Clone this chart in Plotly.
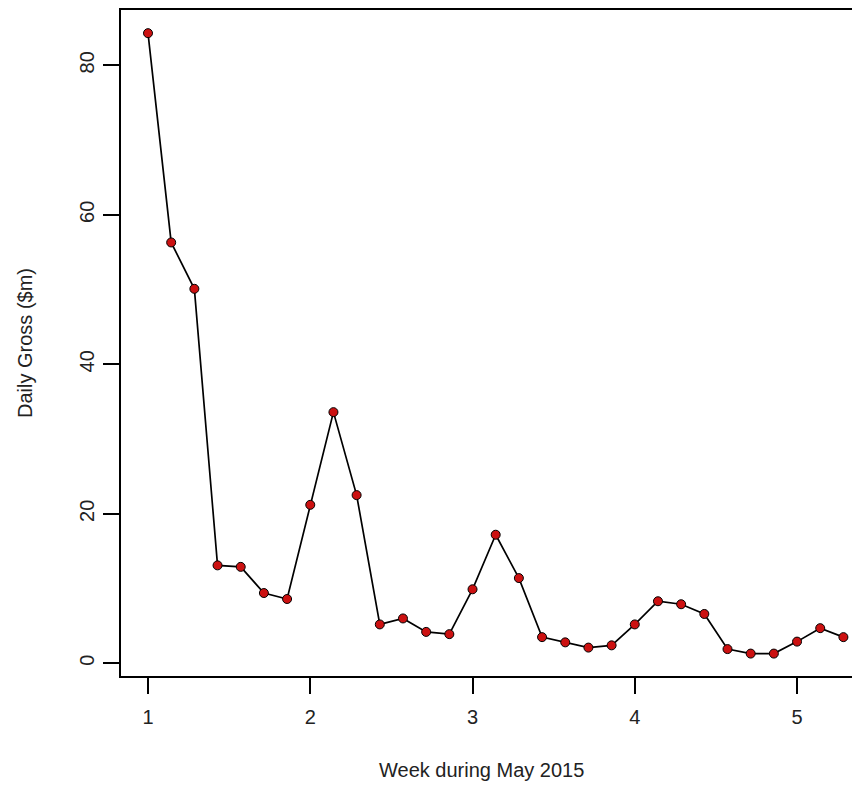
import plotly.graph_objects as go

# Day of May 2015 (1..31) and daily gross in $m
days = list(range(1, 32))
gross = [84.3, 56.3, 50.1, 13.1, 12.9, 9.4, 8.6,
         21.2, 33.6, 22.5, 5.2, 6.0, 4.2, 3.9,
         9.9, 17.2, 11.4, 3.5, 2.8, 2.1, 2.4,
         5.2, 8.3, 7.9, 6.6, 1.9, 1.3, 1.3,
         2.9, 4.7, 3.5]
weeks = [1 + (d - 1) / 7 for d in days]

x_ticks = [1, 2, 3, 4, 5]
y_ticks = [0, 20, 40, 60, 80]

FONT = "Liberation Sans, Arial, sans-serif"
TXT = "#222222"

fig = go.Figure()
fig.add_trace(go.Scatter(
    x=weeks, y=gross, mode="lines+markers",
    line=dict(color="black", width=1.7),
    marker=dict(size=9, color="#CC1111", line=dict(color="black", width=1)),
    showlegend=False, hoverinfo="x+y",
))

fig.update_layout(
    width=852, height=781,
    margin=dict(l=113, r=0, t=2, b=113),
    paper_bgcolor="white", plot_bgcolor="white",
    font=dict(family=FONT, color=TXT, size=20),
    xaxis=dict(
        range=[0.8336, 5.388], tickvals=x_ticks, ticktext=[str(v) for v in x_ticks],
        showgrid=False, zeroline=False,
        showline=True, linecolor="black", linewidth=1.5, mirror=True,
        ticks="outside", ticklen=16, tickwidth=1.5, tickcolor="black",
        tickfont=dict(size=20, color=TXT, family=FONT), ticklabelstandoff=6,
    ),
    yaxis=dict(
        range=[-1.70, 87.40], tickvals=y_ticks, ticktext=[str(v) for v in y_ticks],
        showgrid=False, zeroline=False,
        showline=True, linecolor="black", linewidth=1.5, mirror=False,
        ticks="outside", ticklen=16, tickwidth=1.5, tickcolor="black",
        tickangle=-90,
        tickfont=dict(size=20, color=TXT, family=FONT), ticklabelstandoff=1,
    ),
    annotations=[
        dict(text="Week during May 2015", xref="paper", yref="paper",
             x=(481 - 121) / 739, y=-(770 - 676) / 666, xanchor="center", yanchor="middle",
             showarrow=False, font=dict(size=20, color=TXT, family=FONT)),
        dict(text="Daily Gross ($m)", xref="paper", yref="paper",
             x=-(121 - 25) / 739, y=0.5, xanchor="center", yanchor="middle",
             textangle=-90, showarrow=False, font=dict(size=20, color=TXT, family=FONT)),
    ],
)

fig.write_html("out.html")
